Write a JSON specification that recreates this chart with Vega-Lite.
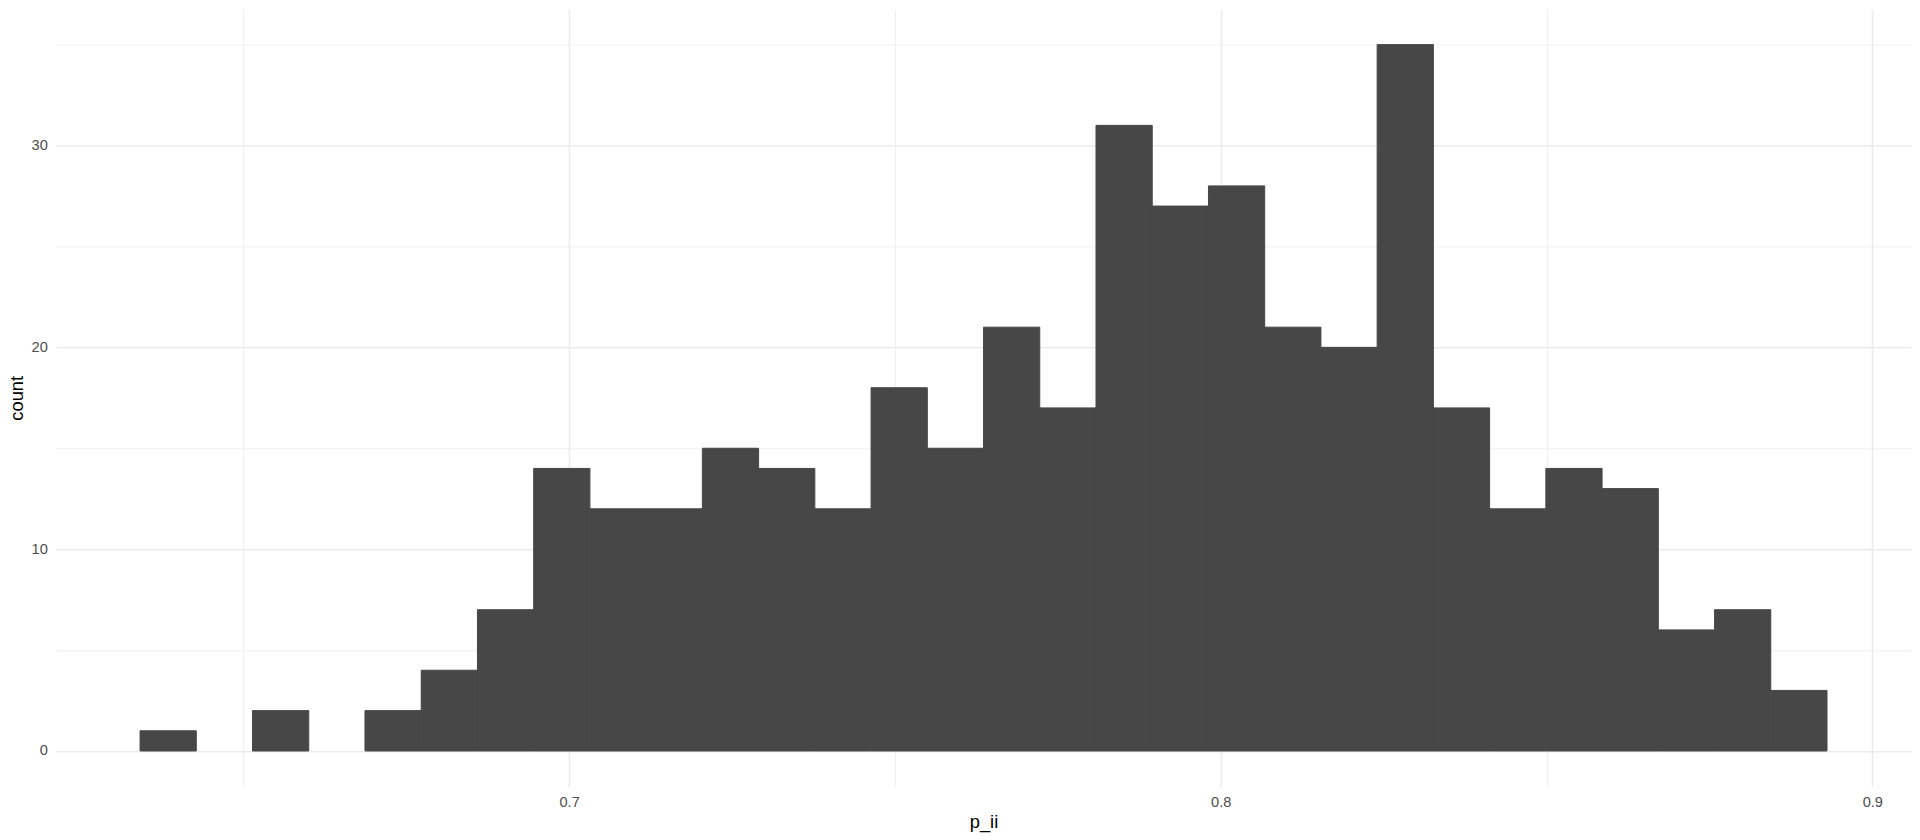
{
  "$schema": "https://vega.github.io/schema/vega-lite/v6.json",
  "autosize": "none",
  "width": 1855,
  "height": 777,
  "padding": {"left": 56, "top": 9.3, "right": 9, "bottom": 53.7},
  "background": "white",
  "config": {"view": {"stroke": null}},
  "data": {"values": [
    {"bin_start": 0.63415, "bin_end": 0.64278, "count": 1},
    {"bin_start": 0.64278, "bin_end": 0.65141, "count": 0},
    {"bin_start": 0.65141, "bin_end": 0.66004, "count": 2},
    {"bin_start": 0.66004, "bin_end": 0.66867, "count": 0},
    {"bin_start": 0.66867, "bin_end": 0.6773, "count": 2},
    {"bin_start": 0.6773, "bin_end": 0.68593, "count": 4},
    {"bin_start": 0.68593, "bin_end": 0.69456, "count": 7},
    {"bin_start": 0.69456, "bin_end": 0.70319, "count": 14},
    {"bin_start": 0.70319, "bin_end": 0.71182, "count": 12},
    {"bin_start": 0.71182, "bin_end": 0.72045, "count": 12},
    {"bin_start": 0.72045, "bin_end": 0.72908, "count": 15},
    {"bin_start": 0.72908, "bin_end": 0.73771, "count": 14},
    {"bin_start": 0.73771, "bin_end": 0.74634, "count": 12},
    {"bin_start": 0.74634, "bin_end": 0.75497, "count": 18},
    {"bin_start": 0.75497, "bin_end": 0.7636, "count": 15},
    {"bin_start": 0.7636, "bin_end": 0.77223, "count": 21},
    {"bin_start": 0.77223, "bin_end": 0.78086, "count": 17},
    {"bin_start": 0.78086, "bin_end": 0.78949, "count": 31},
    {"bin_start": 0.78949, "bin_end": 0.79812, "count": 27},
    {"bin_start": 0.79812, "bin_end": 0.80675, "count": 28},
    {"bin_start": 0.80675, "bin_end": 0.81538, "count": 21},
    {"bin_start": 0.81538, "bin_end": 0.82401, "count": 20},
    {"bin_start": 0.82401, "bin_end": 0.83264, "count": 35},
    {"bin_start": 0.83264, "bin_end": 0.84127, "count": 17},
    {"bin_start": 0.84127, "bin_end": 0.8499, "count": 12},
    {"bin_start": 0.8499, "bin_end": 0.85853, "count": 14},
    {"bin_start": 0.85853, "bin_end": 0.86716, "count": 13},
    {"bin_start": 0.86716, "bin_end": 0.87579, "count": 6},
    {"bin_start": 0.87579, "bin_end": 0.88442, "count": 7},
    {"bin_start": 0.88442, "bin_end": 0.89305, "count": 3}
  ]},
  "transform": [{"filter": "datum.count > 0"}],
  "mark": {"type": "bar", "color": "#474747", "stroke": "#474747", "strokeWidth": 1},
  "encoding": {
    "x": {
      "field": "bin_start",
      "type": "quantitative",
      "scale": {"domain": [0.62125, 0.90594], "nice": false, "zero": false},
      "axis": {
        "values": [0.65, 0.7, 0.75, 0.8, 0.85, 0.9],
        "labelExpr": "abs(datum.value*10 - round(datum.value*10)) < 0.001 ? format(datum.value, '.1f') : ''",
        "domain": false,
        "ticks": false,
        "tickSize": 0,
        "labelPadding": 8.5,
        "labelFont": "Liberation Sans",
        "labelFontSize": 14.6,
        "labelColor": "#4D4D4D",
        "labelFlush": false,
        "labelOverlap": false,
        "grid": true,
        "gridColor": "#EBEBEB",
        "gridWidth": {"condition": {"test": "abs(datum.value*10 - round(datum.value*10)) < 0.001", "value": 1.6}, "value": 0.8},
        "title": "p_ii",
        "titleFont": "Liberation Sans",
        "titleFontSize": 18.3,
        "titleFontWeight": "normal",
        "titleColor": "#000000",
        "titleAnchor": "middle",
        "titleAlign": "center",
        "titleBaseline": "alphabetic",
        "titleX": 927.5,
        "titleY": 41.4
      }
    },
    "x2": {"field": "bin_end"},
    "y": {
      "field": "count",
      "type": "quantitative",
      "scale": {"domain": [-1.75, 36.75], "nice": false, "zero": false},
      "axis": {
        "values": [0, 5, 10, 15, 20, 25, 30, 35],
        "labelExpr": "datum.value % 10 === 0 ? datum.label : ''",
        "domain": false,
        "ticks": false,
        "tickSize": 0,
        "labelPadding": 8.7,
        "labelFont": "Liberation Sans",
        "labelFontSize": 14.6,
        "labelColor": "#4D4D4D",
        "labelFlush": false,
        "labelOverlap": false,
        "grid": true,
        "gridColor": "#EBEBEB",
        "gridWidth": {"condition": {"test": "datum.value % 10 === 0", "value": 1.6}, "value": 0.8},
        "title": "count",
        "titleFont": "Liberation Sans",
        "titleFontSize": 18.3,
        "titleFontWeight": "normal",
        "titleColor": "#000000",
        "titleAngle": -90,
        "titleAlign": "center",
        "titleBaseline": "alphabetic",
        "titleX": -33.3,
        "titleY": 388.5
      }
    },
    "y2": {"datum": 0}
  }
}
